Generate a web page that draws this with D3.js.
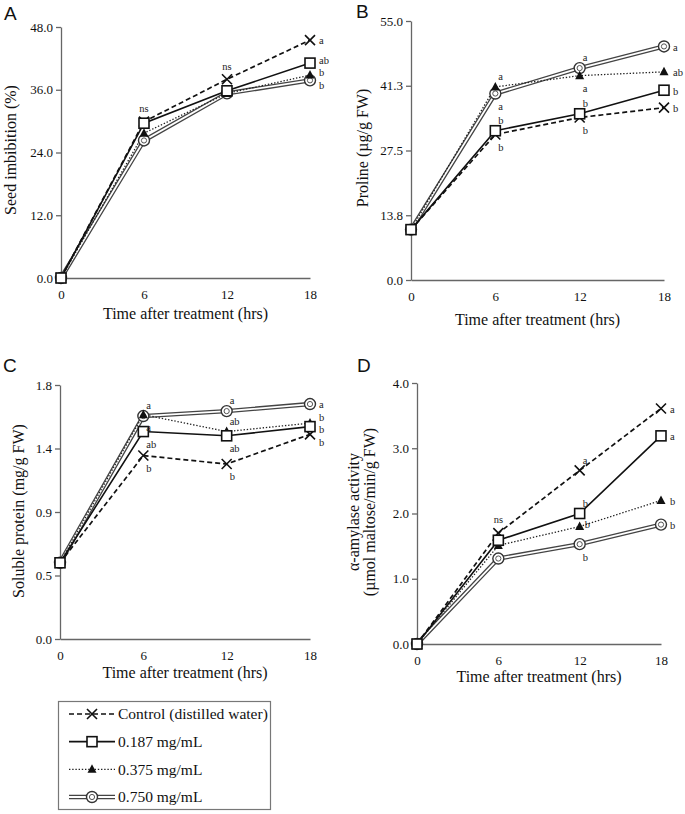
<!DOCTYPE html>
<html><head><meta charset="utf-8">
<script src="https://cdn.jsdelivr.net/npm/d3@7"></script>
<style>body{margin:0;background:#fff}svg{display:block}</style></head>
<body><svg id="chart" width="685" height="814"></svg>
<script>
// ---------- DATA ----------
const times = [0, 6, 12, 18];
const seriesNames = ["Control (distilled water)", "0.187 mg/mL", "0.375 mg/mL", "0.750 mg/mL"];

const imbibitionControl = [0, 29.9, 38.0, 45.5];
const imbibition187     = [0, 29.6, 35.8, 41.1];
const imbibition375     = [0, 27.7, 35.3, 38.8];
const imbibition750     = [0, 26.3, 35.3, 37.8];

const prolineControl = [10.7, 30.9, 34.5, 36.6];
const proline187     = [10.7, 31.7, 35.3, 40.3];
const proline375     = [10.7, 41.0, 43.4, 44.2];
const proline750     = [10.7, 39.6, 45.0, 49.6];

const proteinControl = [0.54, 1.30, 1.24, 1.45];
const protein187     = [0.54, 1.47, 1.44, 1.505];
const protein375     = [0.54, 1.59, 1.47, 1.53];
const protein750     = [0.54, 1.58, 1.615, 1.665];

const amylaseControl = [0, 1.70, 2.66, 3.61];
const amylase187     = [0, 1.59, 2.00, 3.19];
const amylase375     = [0, 1.51, 1.80, 2.20];
const amylase750     = [0, 1.31, 1.53, 1.83];

const ticksA = [0, 12, 24, 36, 48];        const tickLabelsA = ["0.0", "12.0", "24.0", "36.0", "48.0"];
const ticksB = [0, 13.75, 27.5, 41.25, 55]; const tickLabelsB = ["0.0", "13.8", "27.5", "41.3", "55.0"];
const ticksC = [0, 0.45, 0.9, 1.35, 1.8];   const tickLabelsC = ["0.0", "0.5", "0.9", "1.4", "1.8"];
const ticksD = [0, 1, 2, 3, 4];             const tickLabelsD = ["0.0", "1.0", "2.0", "3.0", "4.0"];

// significance letters: [series index, time index, text, placement]
const lettersA = [[0,1,"ns","top"],[0,2,"ns","top"],[0,3,"a","right"],[1,3,"ab","rightUp"],[2,3,"b","rightUp"],[3,3,"b","rightDown"]];
const lettersB = [[2,1,"a","above"],[3,1,"a","below"],[1,1,"b","above"],[0,1,"b","below"],
                  [3,2,"a","above"],[2,2,"a","below"],[1,2,"b","above"],[0,2,"b","below"],
                  [3,3,"a","right"],[2,3,"ab","right"],[1,3,"b","right"],[0,3,"b","right"]];
const lettersC = [[3,1,"a","above"],[2,1,"a","below"],[1,1,"ab","below"],[0,1,"b","below"],
                  [3,2,"a","above"],[2,2,"ab","above"],[1,2,"ab","below"],[0,2,"b","below"],
                  [3,3,"a","right"],[2,3,"b","rightUpMore"],[1,3,"b","rightDownLess"],[0,3,"b","rightDownMore"]];
const lettersD = [[0,1,"ns","top"],[0,2,"a","above"],[1,2,"b","above"],[2,2,"b","rightNear"],[3,2,"b","below"],
                  [0,3,"a","right"],[1,3,"a","right"],[2,3,"b","right"],[3,3,"b","right"]];

// ---------- LAYOUT / STYLE ----------
const serif = "'Liberation Serif','Times New Roman',serif";
const sans = "'Liberation Sans',Arial,sans-serif";
const ink = "#111";
const panels = [
  {id:"A", values:[imbibitionControl, imbibition187, imbibition375, imbibition750], ticks:ticksA, tickLabels:tickLabelsA, max:48,
   x0:61, x1:310, yTop:27, yBot:278, letterPos:[4,20], ytitle:["Seed imbibition (%)"], ytitleX:[16], ytitleY:150, xtitleY:319, letters:lettersA},
  {id:"B", values:[prolineControl, proline187, proline375, proline750], ticks:ticksB, tickLabels:tickLabelsB, max:55,
   x0:411, x1:664, yTop:21, yBot:280, letterPos:[356,18], ytitle:["Proline (µg/g FW)"], ytitleX:[368], ytitleY:148, xtitleY:325, letters:lettersB},
  {id:"C", values:[proteinControl, protein187, protein375, protein750], ticks:ticksC, tickLabels:tickLabelsC, max:1.8,
   x0:60, x1:310, yTop:385, yBot:639, letterPos:[3,372], ytitle:["Soluble protein (mg/g FW)"], ytitleX:[24], ytitleY:511, xtitleY:678, letters:lettersC},
  {id:"D", values:[amylaseControl, amylase187, amylase375, amylase750], ticks:ticksD, tickLabels:tickLabelsD, max:4,
   x0:417, x1:661, yTop:383, yBot:644, letterPos:[357,372], ytitle:["α-amylase activity","(µmol maltose/min/g FW)"], ytitleX:[359,375], ytitleY:512, xtitleY:682, letters:lettersD}
];
const drawOrder = [3, 2, 0, 1];
const placements = {
  top:[0,-13,"middle"], above:[3,-10,"start"], below:[3,13,"start"], right:[9,1,"start"],
  rightUp:[9,-2,"start"], rightDown:[9,5,"start"], rightNear:[5,-2,"start"],
  rightUpMore:[9,-5,"start"], rightDownLess:[9,3.5,"start"], rightDownMore:[9,8,"start"]
};

const svg = d3.select("#chart");

function drawLine(g, pts, i) {
  const path = d3.line().x(d => d[0]).y(d => d[1])(pts);
  if (i === 0) g.append("path").attr("d", path).attr("fill","none").attr("stroke",ink).attr("stroke-width",1.7).attr("stroke-dasharray","5,3");
  else if (i === 1) g.append("path").attr("d", path).attr("fill","none").attr("stroke",ink).attr("stroke-width",1.6);
  else if (i === 2) g.append("path").attr("d", path).attr("fill","none").attr("stroke","#222").attr("stroke-width",1.3).attr("stroke-dasharray","1.4,1.8");
  else {
    g.append("path").attr("d", path).attr("fill","none").attr("stroke","#444").attr("stroke-width",4.4);
    g.append("path").attr("d", path).attr("fill","none").attr("stroke","#fff").attr("stroke-width",1.8);
  }
}
function drawMarker(g, x, y, i) {
  const m = g.append("g").attr("transform", `translate(${x},${y})`);
  if (i === 0) {
    m.append("path").attr("d","M-5,-5L5,5M-5,5L5,-5").attr("stroke",ink).attr("stroke-width",1.6).attr("fill","none");
  } else if (i === 1) {
    m.append("rect").attr("x",-5).attr("y",-5).attr("width",10).attr("height",10).attr("fill","#fff").attr("stroke",ink).attr("stroke-width",1.6);
  } else if (i === 2) {
    m.append("path").attr("d","M0,-5L4.5,3.5L-4.5,3.5Z").attr("fill",ink);
  } else {
    m.append("circle").attr("r",5.5).attr("fill","#fff").attr("stroke","#333").attr("stroke-width",1.4);
    m.append("circle").attr("r",2.6).attr("fill","none").attr("stroke","#555").attr("stroke-width",1);
  }
}

panels.forEach(p => {
  const x = d3.scaleLinear().domain([0, 18]).range([p.x0, p.x1]);
  const y = d3.scaleLinear().domain([0, p.max]).range([p.yBot, p.yTop]);
  const g = svg.append("g");

  const ya = g.append("g").attr("transform", `translate(${p.x0},0)`)
    .call(d3.axisLeft(y).tickValues(p.ticks).tickFormat((d, i) => p.tickLabels[i]).tickSize(5).tickSizeOuter(0).tickPadding(3));
  const xa = g.append("g").attr("transform", `translate(0,${p.yBot})`)
    .call(d3.axisBottom(x).tickValues(times).tickFormat(d3.format("d")).tickSize(0).tickPadding(12));
  [ya, xa].forEach(a => {
    a.attr("font-family", serif).attr("font-size", 13);
    a.select(".domain").attr("stroke","#666").attr("stroke-width",1.3);
    a.selectAll(".tick line").attr("stroke","#666").attr("stroke-width",1.3);
    a.selectAll("text").attr("font-family", serif).attr("font-size", 13).attr("fill", ink);
  });

  g.append("text").attr("x", (p.x0 + p.x1) / 2).attr("y", p.xtitleY).attr("text-anchor","middle")
    .attr("font-family", serif).attr("font-size", 16).attr("fill", ink).text("Time after treatment (hrs)");
  p.ytitle.forEach((t, k) => {
    g.append("text").attr("transform", `translate(${p.ytitleX[k]},${p.ytitleY}) rotate(-90)`).attr("text-anchor","middle")
      .attr("font-family", serif).attr("font-size", 16).attr("fill", ink).text(t);
  });
  g.append("text").attr("x", p.letterPos[0]).attr("y", p.letterPos[1]).attr("font-family", sans)
    .attr("font-size", 19).attr("fill", ink).text(p.id);

  drawOrder.forEach(i => {
    const pts = times.map((t, k) => [x(t), y(p.values[i][k])]);
    drawLine(g, pts, i);
  });
  drawOrder.forEach(i => {
    times.forEach((t, k) => drawMarker(g, x(t), y(p.values[i][k]), i));
  });

  p.letters.forEach(([s, k, txt, pos]) => {
    const [dx, dy, anchor] = placements[pos];
    g.append("text").attr("x", x(times[k]) + dx).attr("y", y(p.values[s][k]) + dy).attr("dy","0.32em").attr("text-anchor", anchor)
      .attr("font-family", serif).attr("font-size", 10.5).attr("fill", "#222").text(txt);
  });
});

// legend
const lg = svg.append("g");
lg.append("rect").attr("x", 58.5).attr("y", 701.5).attr("width", 212).attr("height", 108)
  .attr("fill","#fff").attr("stroke","#777").attr("stroke-width",1.2);
const rowY = d3.scalePoint().domain(d3.range(seriesNames.length)).range([714, 797]);
seriesNames.forEach((name, i) => {
  const yy = rowY(i);
  drawLine(lg, [[69, yy], [115, yy]], i);
  drawMarker(lg, 92, yy, i);
  lg.append("text").attr("x", 118).attr("y", yy).attr("dy","0.35em").attr("font-family", serif)
    .attr("font-size", 15.5).attr("fill", ink).text(name);
});
</script>
</body></html>
